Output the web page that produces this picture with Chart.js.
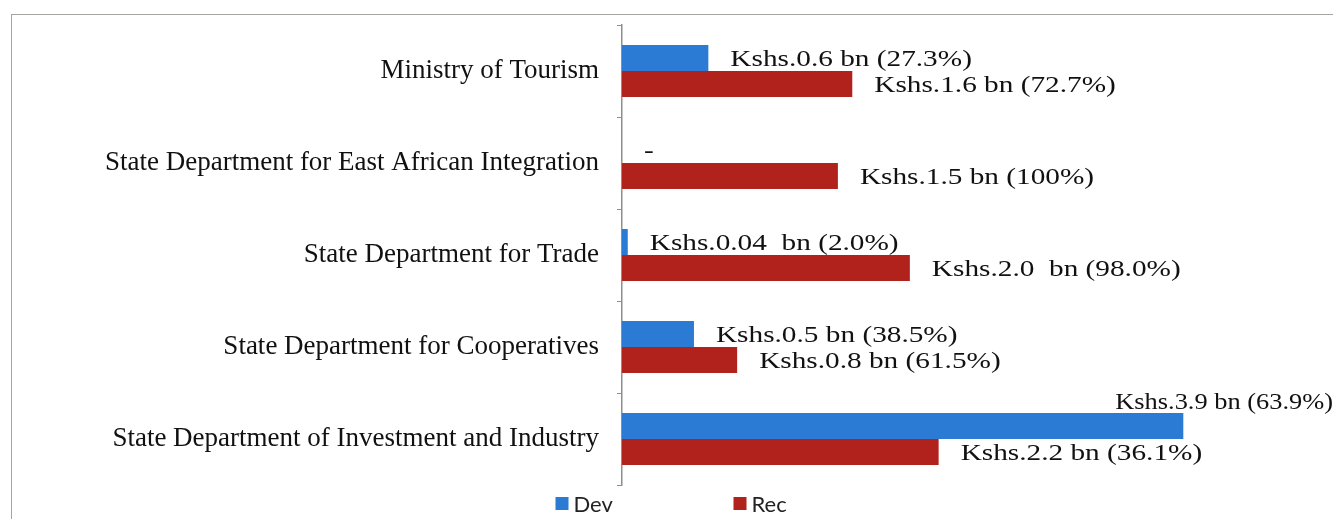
<!DOCTYPE html>
<html>
<head>
<meta charset="utf-8">
<script src="https://cdn.jsdelivr.net/npm/chart.js@4"></script>
<style>
  html, body { margin: 0; padding: 0; background: #fff; overflow: hidden; }
  #wrap { position: relative; width: 1333px; height: 519px; }
  #frame { position: absolute; left: 11px; top: 14px; width: 1400px; height: 600px;
           border-top: 1.5px solid #a3a6a0; border-left: 1.5px solid #a3a6a0; pointer-events: none; }
  canvas { position: absolute; left: 0; top: 0; }
</style>
</head>
<body>
<div id="wrap">
  <canvas id="myChart" width="1333" height="519"></canvas>
  <div id="frame"></div>
</div>
<script>
// chart data
const categories = [
  'Ministry of Tourism',
  'State Department for East African Integration',
  'State Department for Trade',
  'State Department for Cooperatives',
  'State Department of Investment and Industry'
];
const devValues = [0.6, 0, 0.04, 0.5, 3.9];
const recValues = [1.6, 1.5, 2.0, 0.8, 2.2];
const devLabels = ['Kshs.0.6 bn (27.3%)', '-', 'Kshs.0.04  bn (2.0%)', 'Kshs.0.5 bn (38.5%)', 'Kshs.3.9 bn (63.9%)'];
const recLabels = ['Kshs.1.6 bn (72.7%)', 'Kshs.1.5 bn (100%)', 'Kshs.2.0  bn (98.0%)', 'Kshs.0.8 bn (61.5%)', 'Kshs.2.2 bn (36.1%)'];

const BLUE = '#2b7bd4';
const RED = '#b1221d';

// value labels next to each bar, and a simple legend at the bottom
const barLabels = {
  id: 'barLabels',
  afterDatasetsDraw(chart) {
    const ctx = chart.ctx;
    const allLabels = [devLabels, recLabels];
    ctx.save();
    ctx.fillStyle = '#111';
    ctx.font = '24px "Liberation Serif", "Times New Roman", serif';
    ctx.textBaseline = 'middle';
    chart.data.datasets.forEach(function (ds, di) {
      const meta = chart.getDatasetMeta(di);
      meta.data.forEach(function (bar, i) {
        const txt = allLabels[di][i];
        const stretch = 1.22;
        const w = ctx.measureText(txt).width * stretch;
        let x = bar.x + 22;
        let y = bar.y + 2;
        ctx.save();
        if (x + w > chart.width) {
          // no room: put it above the bar, against the right edge
          y = bar.y - bar.height / 2 - 10;
          ctx.textAlign = 'right';
          ctx.translate(chart.width, y);
          ctx.scale(1.1, 1);
        } else {
          ctx.textAlign = 'left';
          ctx.translate(x, y);
          ctx.scale(stretch, 1);
        }
        ctx.fillText(txt, 0, 0);
        ctx.restore();
      });
    });

    // legend
    ctx.font = '22px Lato, "Open Sans", sans-serif';
    ctx.textAlign = 'left';
    let lx = chart.width / 2 - 111;
    chart.data.datasets.forEach(function (ds) {
      ctx.fillStyle = ds.backgroundColor;
      ctx.fillRect(lx, 497, 13, 13);
      ctx.fillStyle = '#222';
      ctx.fillText(ds.label, lx + 18, 505);
      lx += 178;
    });
    ctx.restore();
  }
};

var ctx = document.getElementById('myChart').getContext('2d');

var myChart = new Chart(ctx, {
  type: 'bar',
  data: {
    labels: categories,
    datasets: [
      { label: 'Dev', data: devValues, backgroundColor: BLUE, borderWidth: 0 },
      { label: 'Rec', data: recValues, backgroundColor: RED, borderWidth: 0 }
    ]
  },
  options: {
    indexAxis: 'y',
    responsive: false,
    animation: false,
    categoryPercentage: 0.565,
    barPercentage: 1.0,
    layout: { padding: { top: 25, right: 0, bottom: 34, left: 0 } },
    plugins: {
      legend: { display: false },
      tooltip: { enabled: false }
    },
    scales: {
      x: { type: 'linear', min: 0, max: 4.94, display: false },
      y: {
        grid: { drawOnChartArea: false, drawTicks: true, tickLength: 5, color: '#8c8f8a', offset: true },
        border: { display: true, color: '#8c8f8a', width: 1.5 },
        ticks: {
          color: '#111',
          padding: 18,
          font: { family: '"Liberation Serif", "Times New Roman", serif', size: 27 }
        },
        afterFit: function (scale) {
          scale.width = 622;
          scale.paddingTop = 0;
          scale.paddingBottom = 0;
        }
      }
    }
  },
  plugins: [barLabels]
});
</script>
</body>
</html>
